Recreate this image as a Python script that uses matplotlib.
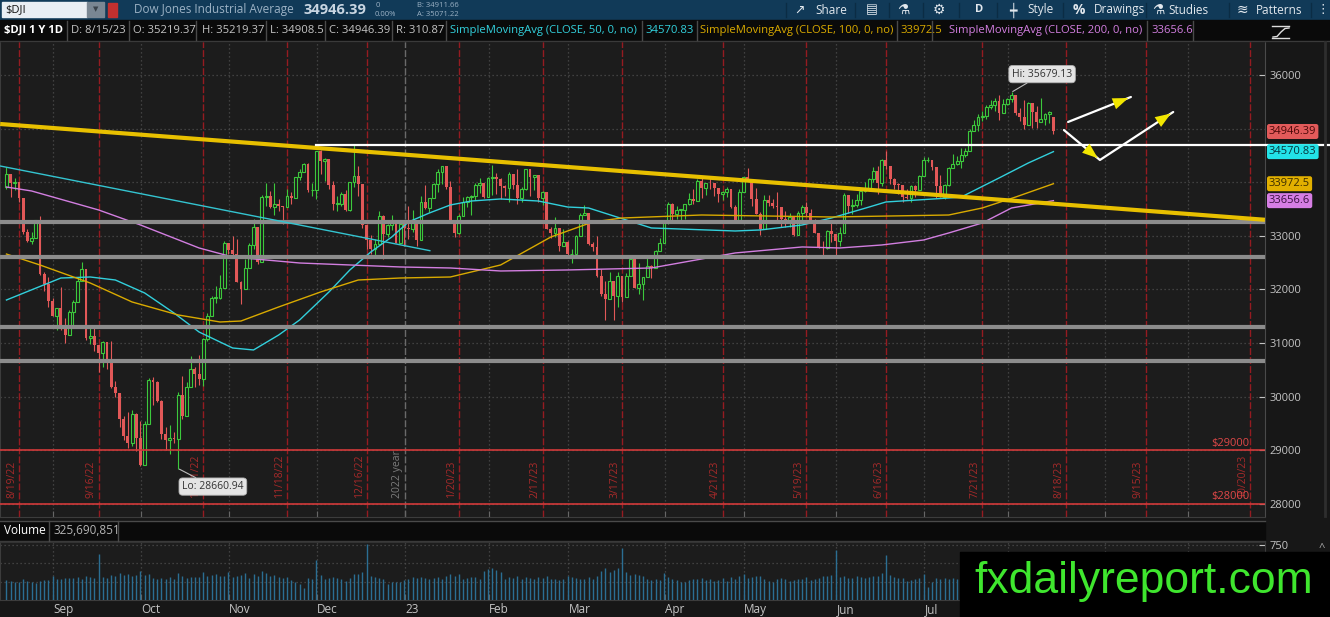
import numpy as np
import pandas as pd
import matplotlib
matplotlib.use("Agg")
import matplotlib.pyplot as plt
import matplotlib.transforms as mtrans
from matplotlib.patches import Rectangle

plt.rcParams['font.family'] = ['Open Sans', 'DejaVu Sans']

# ---------------- data ($DJI daily, 8/16/22 - 8/15/23) ----------------
prev_close = 33912.0
last_open = 35219.37

close = [
    34152, 33980, 33999, 33706, 33063, 32909, 32969, 33291, 32283, 32098, 31790, 31510,
    31656, 31318, 31145, 31581, 31775, 32151, 32381, 31104, 31135, 30961, 30822, 31019, 30706, 30184, 30076, 29590, 29260, 29134, 29683, 29225, 28725,
    29490, 30316, 30273, 29926, 29297, 29202, 29239, 29210, 30038, 29634, 30185, 30523, 30423, 30333, 31082, 31499, 31837, 31839, 32033, 32861, 32732,
    32653, 32147, 32001, 32403, 32827, 33160, 32513, 33716, 33748, 33537, 33593, 33554, 33546, 33746, 33700, 34098, 34194, 34347, 33850, 33853, 34590,
    34395, 34430, 33947, 33597, 33598, 33781, 33476, 34005, 34108, 33966, 33203, 32920, 32758, 32850, 33376, 33027, 33204, 33241, 32876, 33221, 33147,
    33136, 33270, 32930, 33631, 33518, 33704, 33974, 34190, 34303, 33911, 33297, 33045, 33375, 33630, 33734, 33744, 33949, 33978, 33717, 34086,
    34093, 34053, 33926, 33891, 34156, 33949, 33699, 33869, 34246, 34089, 34128, 33697, 33827, 33130, 33045, 33154, 32817, 32889, 32657,
    32662, 33004, 33391, 33432, 32856, 32798, 32254, 31910, 31820, 32155, 31875, 32247, 31862, 32245, 32561, 32031, 32106, 32238, 32433, 32394, 32718, 32860, 33274,
    33601, 33403, 33483, 33485, 33587, 33685, 33647, 34030, 33887, 33988, 33977, 33897, 33787, 33809, 33876, 33531, 33302, 33826, 34098,
    34052, 33684, 33415, 33128, 33674, 33619, 33562, 33531, 33310, 33301, 33349, 33012, 33420, 33536, 33427, 33287, 33056, 32800, 32765, 33093, 33042, 32908,
    33061, 33762, 33563, 33573, 33665, 33833, 33876, 34066, 34212, 33979, 34408, 34299, 34053, 33951, 33946, 33727, 33714, 33927, 33852, 34122, 34408,
    34418, 34288, 33922, 33734, 33944, 34261, 34347, 34395, 34509, 34585, 34952, 35061, 35225, 35228, 35411, 35438, 35520, 35282, 35459, 35560,
    35631, 35283, 35216, 35066, 35473, 35314, 35124, 35177, 35281, 35308, 34946.39,
]

high = [
    34281, 34080, 34070, 33910, 33600, 33120, 33080, 33300, 33365, 32330, 32240, 31850,
    31660, 32040, 31460, 31620, 31800, 32230, 32510, 32050, 31290, 31300, 30830, 31040, 30860, 31040, 30300, 30000, 29640, 29710, 29760, 29690, 29540,
    29540, 30340, 30360, 30300, 29930, 29430, 29480, 29350, 30090, 30380, 30280, 30760, 30560, 30780, 31100, 31560, 31880, 32060, 32270, 32900, 32870,
    33000, 32950, 32150, 32570, 32870, 33310, 33150, 33760, 33990, 33830, 33990, 33680, 33560, 33870, 33810, 34100, 34250, 34360, 34360, 33990, 34590,
    34595, 34450, 34370, 34020, 33740, 33810, 33860, 34010, 34710, 34300, 33840, 33170, 33010, 32950, 33460, 33380, 33230, 33390, 33300, 33290, 33150,
    33560, 33480, 33230, 33740, 33950, 33710, 33980, 34250, 34310, 34300, 34020, 33290, 33400, 33730, 33750, 33760, 33980, 34080, 33950, 34090,
    34330, 34170, 34080, 33950, 34190, 34150, 34250, 33910, 34250, 34240, 34130, 33990, 33830, 33730, 33160, 33350, 33000, 33120, 32900,
    32760, 33010, 33420, 33570, 33430, 32880, 32990, 32380, 32150, 32320, 31880, 32320, 32200, 32310, 32620, 32620, 32490, 32240, 32650, 32460, 32740, 32960, 33280,
    33640, 33620, 33560, 33510, 33590, 33800, 33880, 34060, 34080, 33990, 34100, 33960, 33880, 33830, 33920, 33840, 33580, 33880, 34100,
    34260, 34040, 33900, 33440, 33760, 33760, 33690, 33820, 33500, 33460, 33420, 33320, 33460, 33580, 33640, 33500, 33310, 33010, 32900, 33100, 33280, 33040,
    33160, 33800, 33740, 33680, 33790, 33850, 34010, 34070, 34290, 34300, 34440, 34590, 34220, 34070, 33990, 33900, 33870, 33950, 33940, 34130, 34470,
    34470, 34400, 34220, 34140, 33960, 34280, 34530, 34490, 34630, 34640, 35000, 35160, 35280, 35320, 35440, 35540, 35580, 35630, 35550, 35580,
    35679.13, 35580, 35390, 35540, 35500, 35320, 35420, 35580, 35300, 35320, 35219.37,
]

low = [
    33876, 33730, 33860, 33640, 33030, 32880, 32850, 32970, 32270, 31970, 31670, 31500,
    31250, 31250, 31010, 31150, 31320, 31790, 32150, 31060, 30990, 30850, 30470, 30560, 30520, 30170, 29990, 29440, 29190, 29040, 29090, 28980, 28710,
    28720, 29490, 29850, 29900, 29210, 29000, 28940, 29140, 28660.94, 29590, 29640, 30180, 30180, 30210, 30200, 31040, 31500, 31750, 31830, 32030, 32660,
    32580, 32140, 31730, 32000, 32400, 32760, 32480, 32510, 33560, 33520, 33380, 33470, 33230, 33540, 33600, 33700, 34050, 34190, 33820, 33750, 33680,
    34160, 34020, 33880, 33490, 33460, 33560, 33460, 33470, 33910, 33740, 33140, 32760, 32660, 32580, 32850, 32570, 32980, 33100, 32860, 32880, 32810,
    32950, 33070, 32810, 32930, 33500, 33440, 33710, 33820, 33970, 33870, 33270, 32980, 33030, 33370, 33530, 33380, 33660, 33800, 33700, 33720,
    33760, 33780, 33680, 33740, 33630, 33880, 33600, 33640, 33860, 33740, 33860, 33630, 33570, 33120, 32960, 32980, 32710, 32850, 32650,
    32500, 32610, 33000, 33400, 32830, 32720, 32230, 31880, 31430, 31850, 31430, 31670, 31770, 31860, 32250, 32020, 31920, 31810, 32240, 32210, 32470, 32710, 32880,
    33230, 33290, 33310, 33250, 33310, 33570, 33600, 33650, 33710, 33770, 33870, 33750, 33630, 33660, 33730, 33520, 33250, 33320, 33810,
    34020, 33560, 33400, 33010, 33190, 33550, 33520, 33300, 33160, 33160, 33160, 33000, 33030, 33250, 33370, 33260, 33050, 32770, 32580, 32760, 32890, 32590,
    32820, 33070, 33430, 33400, 33530, 33580, 33810, 33840, 34010, 33780, 33930, 34250, 33970, 33880, 33780, 33630, 33680, 33640, 33730, 33860, 34150,
    34370, 34230, 33700, 33730, 33690, 33930, 34260, 34320, 34270, 34480, 34580, 34950, 34960, 35150, 35180, 35360, 35330, 35170, 35310, 35440,
    35490, 35260, 35140, 35000, 35090, 35010, 35020, 35130, 35070, 35100, 34908.5,
]

# volume, millions of shares
volume = [
    270, 265, 240, 250, 290, 255, 245, 230, 260, 270, 275, 330,
    290, 280, 305, 300, 295, 310, 290, 330, 315, 300, 620, 310, 300, 345, 330, 370, 335, 360, 330, 340, 400,
    340, 350, 300, 290, 300, 290, 320, 280, 370, 330, 300, 320, 310, 320, 380, 330, 340, 360, 330, 330, 380,
    320, 330, 340, 370, 300, 350, 330, 400, 370, 330, 340, 310, 300, 320, 270, 250, 220, 160, 300, 290, 550,
    340, 280, 300, 310, 300, 280, 260, 300, 360, 350, 380, 760, 330, 310, 300, 280, 220, 250, 240, 250, 270,
    290, 310, 300, 320, 300, 280, 300, 320, 290, 330, 350, 330, 360, 290, 300, 310, 320, 290, 400, 420,
    430, 410, 380, 290, 310, 300, 330, 280, 310, 300, 290, 320, 300, 330, 290, 280, 270, 280, 330,
    310, 300, 290, 290, 320, 280, 330, 400, 440, 380, 410, 430, 710, 380, 340, 350, 340, 330, 280, 270, 290, 270, 370,
    320, 290, 270, 250, 240, 270, 290, 280, 300, 270, 280, 260, 270, 300, 260, 320, 290, 330, 350,
    300, 310, 330, 330, 290, 260, 250, 280, 300, 290, 260, 270, 290, 280, 320, 270, 290, 300, 330, 330, 340, 680,
    310, 330, 300, 300, 330, 310, 300, 320, 330, 330, 370, 615, 340, 320, 300, 300, 260, 270, 280, 300, 360,
    180, 250, 300, 280, 300, 290, 300, 290, 300, 300, 350, 320, 310, 360, 300, 300, 310, 330, 320, 320,
    330, 310, 300, 290, 260, 290, 300, 310, 260, 260, 325.690851,
]

# moving averages (trading-day index, value)
sma50_x = [0, 13, 20, 26, 33, 40, 46, 54, 59, 65, 70, 77, 82, 87, 92, 96, 101, 106, 111, 118,
           127, 134, 139, 154, 174, 180, 190, 197, 206, 210, 225, 228, 237, 244, 250]
sma50_y = [31804, 32214, 32233, 32177, 31935, 31562, 31207, 30909, 30872, 31151, 31431, 31953, 32364,
           32699, 32979, 33259, 33427, 33576, 33650, 33688, 33650, 33538, 33520, 33147, 33091, 33110,
           33203, 33333, 33538, 33632, 33706, 33725, 34079, 34359, 34570.83]
sma100_x = [0, 8, 20, 30, 41, 51, 56, 65, 75, 84, 94, 106, 118, 130, 140, 147, 166, 197, 225, 233, 241, 250]
sma100_y = [32661, 32457, 32121, 31767, 31525, 31394, 31412, 31674, 31953, 32177, 32214, 32233, 32457,
            32979, 33259, 33333, 33389, 33352, 33389, 33520, 33725, 33972.5]
sma200_x = [0, 6, 22, 32, 46, 54, 70, 94, 106, 118, 134, 154, 174, 190, 199, 209, 219, 225, 233, 240, 250]
sma200_y = [33911, 33837, 33483, 33203, 32774, 32606, 32494, 32420, 32401, 32345, 32364, 32401, 32681,
            32793, 32774, 32830, 32923, 33054, 33240, 33520, 33656.6]

# drawings
gray_levels = [33250, 32600, 31300, 30670]
red_levels = [29000, 28000]
white_level = 34695
white_start = "2022-11-30"
yellow_tl_x, yellow_tl_y = [-1.5, 300.5], [35086, 33300]
cyan_tl_x, cyan_tl_y = [-1.5, 101.1], [34303, 32724]
arrow1_x, arrow1_y = [253.5, 268.5], [35124, 35590]
arrow2_x, arrow2_y = [252.5, 261.1, 278.6], [34974, 34415, 35310]

holidays = ["2022-09-05", "2022-11-24", "2022-12-26", "2023-01-02", "2023-01-16", "2023-02-20",
            "2023-04-07", "2023-05-29", "2023-06-19", "2023-07-04", "2023-09-04"]
exp_dates = ["2022-08-19", "2022-09-16", "2022-10-21", "2022-11-18", "2022-12-16", "2023-01-20",
             "2023-02-17", "2023-03-17", "2023-04-21", "2023-05-19", "2023-06-16", "2023-07-21",
             "2023-08-18", "2023-09-15", "2023-10-20"]

# ---------------- setup ----------------
days = pd.bdate_range("2022-08-16", "2023-11-03")
days = days[~days.isin(pd.to_datetime(holidays))]
pos = {d: i for i, d in enumerate(days)}

c = np.array(close, float)
o = np.r_[prev_close, c[:-1]]
o[-1] = last_open
h = np.maximum(np.array(high, float), np.maximum(o, c))
l = np.minimum(np.array(low, float), np.minimum(o, c))
x = np.arange(len(c))
up = c >= o

BG = '#1c1c1c'
GREEN = '#3cc83c'
RED = '#e25858'
W, H = 1330, 617
XL = (-1.54, 300.52)

def fax(x0, y0, x1, y1):
    return [x0 / W, 1 - y1 / H, (x1 - x0) / W, (y1 - y0) / H]

fig = plt.figure(figsize=(13.3, 6.17), dpi=100, facecolor='#171717')
ax = fig.add_axes(fax(0, 41, 1265, 517), facecolor=BG)
axv = fig.add_axes(fax(0, 542, 1265, 600), facecolor=BG)

for a in (ax, axv):
    a.set_xlim(*XL)
    for s in a.spines.values():
        s.set_color('#3c3c3c')
ax.set_ylim(27757, 36634)
axv.set_ylim(0, 790)

# month boundaries
month_pos, month_lab = [], []
for i in range(1, len(days)):
    if days[i].month != days[i - 1].month and i <= 300:
        month_pos.append(i - 0.8)
        month_lab.append(days[i].strftime('%y') if days[i].month == 1 else days[i].strftime('%b'))

for p in range(28000, 36001, 1000):
    ax.axhline(p, color='#4c4c4c', lw=0.9, ls=(0, (1, 2.2)), zorder=1)
for mp, lab in zip(month_pos, month_lab):
    if lab == '23':
        ax.axvline(mp, color='#6a6a6a', lw=1, ls=(0, (5, 1.5)), zorder=1)
        ax.text(mp - 0.5, 28112, "2022 year", rotation=90, ha='right', va='bottom',
                color='#7c7c7c', fontsize=7.5, zorder=2)
    else:
        ax.axvline(mp, color='#4c4c4c', lw=0.9, ls=(0, (1, 2.2)), zorder=1)
    axv.axvline(mp, color='#4c4c4c', lw=0.9, ls=(0, (1, 2.2)), zorder=1)

for d in exp_dates:
    t = pd.Timestamp(d)
    i = pos[t]
    ax.axvline(i, color='#951b21', lw=1, ls=(0, (5, 1.5)), zorder=1)
    ax.text(i - 0.45, 28112, f"{t.month}/{t.day}/{t:%y}", rotation=90, ha='right', va='bottom',
            color='#a82a2a', fontsize=7.5, zorder=2)

# candles
ax.vlines(x[up], l[up], h[up], color=GREEN, lw=0.8, zorder=3)
ax.vlines(x[~up], l[~up], h[~up], color=RED, lw=0.8, zorder=3)
body_lo = np.minimum(o, c)
body_h = np.maximum(np.abs(c - o), 14)
ax.bar(x[up], body_h[up], bottom=body_lo[up], width=0.68, facecolor=BG, edgecolor=GREEN,
       linewidth=0.8, zorder=3)
ax.bar(x[~up], body_h[~up], bottom=body_lo[~up], width=0.68, color=RED, linewidth=0, zorder=3)

# studies
ax.plot(sma50_x, sma50_y, color='#32d0dc', lw=1.0, zorder=4)
ax.plot(sma100_x, sma100_y, color='#d9aa00', lw=1.0, zorder=4)
ax.plot(sma200_x, sma200_y, color='#d27ee0', lw=1.0, zorder=4)

# drawings
for p in gray_levels:
    ax.axhline(p, color='#8c8c8c', lw=3, zorder=5)
for p in red_levels:
    ax.axhline(p, color='#d23a3a', lw=1.2, zorder=5)
    ax.text(296.9, p + 30, f"${p}", ha='right', va='bottom', color='#e04848', fontsize=8, zorder=6)
ax.plot(yellow_tl_x, yellow_tl_y, color='#e8c000', lw=3, zorder=6, solid_capstyle='butt')
ax.plot(cyan_tl_x, cyan_tl_y, color='#34c4d0', lw=1.0, zorder=6)
ax.plot([pos[pd.Timestamp(white_start)], 316], [white_level] * 2, color='white', lw=1.6,
        zorder=6, clip_on=False)

for ax_, ay_ in ((arrow1_x, arrow1_y), (arrow2_x, arrow2_y)):
    ax.plot(ax_, ay_, color='white', lw=1.6, zorder=7, solid_capstyle='round')
for (x0, y0, x1, y1) in ((arrow1_x[0], arrow1_y[0], arrow1_x[1], arrow1_y[1]),
                         (arrow2_x[0], arrow2_y[0], arrow2_x[1], arrow2_y[1]),
                         (arrow2_x[1], arrow2_y[1], arrow2_x[2], arrow2_y[2])):
    ax.annotate("", xy=(x1, y1), xytext=(x0 + 0.6 * (x1 - x0), y0 + 0.6 * (y1 - y0)),
                arrowprops=dict(arrowstyle='-|>,head_length=0.8,head_width=0.3', color='#f2e600',
                                lw=0, mutation_scale=14), zorder=8)

# Hi / Lo bubbles
ih, il = int(np.argmax(h)), int(np.argmin(l))
bub = dict(boxstyle='round,pad=0.3,rounding_size=0.35', fc='#e4e4e4', ec='#b0b0b0', lw=0.6)
ax.annotate(f"Hi: {h[ih]:.2f}", xy=(ih, h[ih]), xytext=(22, 13), textcoords='offset points',
            ha='center', va='center', fontsize=7.5, color='#333333', bbox=bub, zorder=9,
            arrowprops=dict(arrowstyle='-', color='#bdbdbd', lw=0.8, shrinkA=0, shrinkB=1))
ax.annotate(f"Lo: {l[il]:.2f}", xy=(il, l[il]), xytext=(25, -13), textcoords='offset points',
            ha='center', va='center', fontsize=7.5, color='#333333', bbox=bub, zorder=9,
            arrowprops=dict(arrowstyle='-', color='#bdbdbd', lw=0.8, shrinkA=0, shrinkB=1))

# right price axis
ax.yaxis.tick_right()
ax.set_yticks([28000, 29000, 30000, 31000, 32000, 33000, 36000])
ax.tick_params(axis='y', direction='in', length=4, colors='#c4c4c4', labelsize=8, pad=3)
ax.set_xticks(month_pos)
ax.set_xticklabels([])
ax.tick_params(axis='x', direction='in', length=4, color='#666666')
ax.spines['right'].set_color('#4a4a4a')

tr = mtrans.blended_transform_factory(ax.transAxes, ax.transData)
for val, txt, fc, tc in ((c[-1], f"{c[-1]:.2f}", '#e25a5a', '#4a0808'),
                         (sma50_y[-1], f"{sma50_y[-1]:.2f}", '#22e3e8', '#06353c'),
                         (sma100_y[-1], f"{sma100_y[-1]:.1f}", '#e2b000', '#3a2c00'),
                         (sma200_y[-1], f"{sma200_y[-1]:.1f}", '#d67ee4', '#3a1040')):
    ax.text(1.0 + 4 / 1265, val, txt, transform=tr,
            ha='left', va='center', fontsize=8, color=tc, clip_on=False, zorder=9,
            bbox=dict(boxstyle='round,pad=0.18,rounding_size=0.2', fc=fc, ec='none'))

# volume
axv.vlines(x, 0, volume, color='#2b6e93', lw=1.0, zorder=3)
for p in (250, 500, 750):
    axv.axhline(p, color='#4c4c4c', lw=0.9, ls=(0, (1, 2.2)), zorder=1)
axv.yaxis.tick_right()
axv.set_yticks([750])
axv.tick_params(axis='y', direction='in', length=4, colors='#c4c4c4', labelsize=8, pad=3)
axv.set_xticks(month_pos)
axv.set_xticklabels(month_lab)
axv.tick_params(axis='x', direction='in', length=4, color='#666666', labelcolor='#c4c4c4',
                labelsize=8.5, pad=2)
for t in axv.get_xticklabels():
    t.set_horizontalalignment('left')

# ---------------- platform chrome (pixel overlay) ----------------
ov = fig.add_axes([0, 0, 1, 1], zorder=10)
ov.set_xlim(0, W)
ov.set_ylim(H, 0)
ov.axis('off')
ov.patch.set_alpha(0)

# toolbar
ov.add_patch(Rectangle((0, 0), W, 20, color='#113a58'))
ov.add_patch(Rectangle((2, 2), 85, 15, color='#e9eef3'))
ov.add_patch(Rectangle((87, 2), 17, 15, color='#7a8793'))
ov.text(95.5, 9.5, "▼", ha='center', va='center', fontsize=5, color='#3a434b')
ov.add_patch(Rectangle((108, 3), 9, 14, color='#c2302f'))
ov.text(5, 10, "$DJI", va='center', fontsize=8, color='#111111')
ov.text(134, 10, "Dow Jones Industrial Average", va='center', fontsize=8.5, color='#9cb2c5')
ov.text(304, 10, f"{c[-1]:.2f}", va='center', fontsize=10.5, color='#c8d5e1', weight='bold')
ov.text(376, 5.5, "0", va='center', fontsize=5.5, color='#9cb2c5')
ov.text(375, 14, "0.00%", va='center', fontsize=5.5, color='#9cb2c5')
ov.text(417, 5.5, "B: 34911.66", va='center', fontsize=5.5, color='#9cb2c5')
ov.text(417, 14, "A: 35071.22", va='center', fontsize=5.5, color='#9cb2c5')
tool_items = [(794, "↗", 9), (815, "Share", 8.5), (866, "▤", 9), (897, "⚗", 10), (933, "⚙", 10),
              (975, "D", 8), (1009, "┿", 9), (1027, "Style", 8.5), (1073, "%", 10),
              (1094, "Drawings", 8.5), (1152, "⚗", 10), (1168, "Studies", 8.5), (1237, "≋", 10),
              (1256, "Patterns", 8.5), (1316, "⋮", 9)]
for tx, s, fs in tool_items:
    ov.text(tx, 10, s, va='center', fontsize=fs, color='#e2e8ee',
            weight='bold' if s in ("%", "D") else 'normal')
for sx in (786, 855, 889, 923, 959, 997, 1063, 1146, 1229, 1311):
    ov.plot([sx, sx], [3, 17], color='#0b2c44', lw=1)

# legend / header row
ov.add_patch(Rectangle((0, 20), W, 21, color='#0a0a0a'))
ov.plot([0, W], [40.5, 40.5], color='#3a3a3a', lw=1)
hdr = [(4, "$DJI 1 Y 1D", 'white', 'bold'), (71, "D: 8/15/23", '#c4c4c4', 'normal'),
       (133, f"O: {last_open:.2f}", '#c4c4c4', 'normal'), (202, f"H: {h[-1]:.2f}", '#c4c4c4', 'normal'),
       (270, f"L: {l[-1]:.1f}", '#c4c4c4', 'normal'), (329, f"C: {c[-1]:.2f}", '#c4c4c4', 'normal'),
       (396, f"R: {h[-1] - l[-1]:.2f}", '#c4c4c4', 'normal'),
       (450, "SimpleMovingAvg (CLOSE, 50, 0, no)", '#32d0dc', 'normal'),
       (645, f"{sma50_y[-1]:.2f}", '#32d0dc', 'normal'),
       (700, "SimpleMovingAvg (CLOSE, 100, 0, no)", '#d9aa00', 'normal'),
       (900, f"{sma100_y[-1]:.1f}", '#d9aa00', 'normal'),
       (949, "SimpleMovingAvg (CLOSE, 200, 0, no)", '#d27ee0', 'normal'),
       (1151, f"{sma200_y[-1]:.1f}", '#d27ee0', 'normal')]
for tx, s, col, wt in hdr:
    ov.text(tx, 30.5, s, va='center', fontsize=8.1, color=col, weight=wt)
for sx in (67, 129, 196, 266, 325, 392, 446, 642, 697, 897, 932, 1147, 1193):
    ov.plot([sx, sx], [21, 40], color='#4a4a4a', lw=1)
ov.plot([1272, 1289], [26, 26], color='#dddddd', lw=1)
ov.plot([1273, 1277, 1281, 1285, 1289], [37, 36.5, 32, 28.5, 28], color='#dddddd', lw=1)
ov.plot([1272, 1289], [38, 38], color='#dddddd', lw=1)

# scrollbar strip of the price axis
ov.plot([1325, 1325], [42, 516], color='#2e2e2e', lw=2)

# volume header
ov.add_patch(Rectangle((0, 521), 1265, 20, color='#0a0a0a'))
ov.plot([0, 1265], [521, 521], color='#4a4a4a', lw=1)
ov.plot([0, 1265], [541, 541], color='#3a3a3a', lw=1)
for sx in (49, 118):
    ov.plot([sx, sx], [521, 541], color='#4a4a4a', lw=1)
ov.text(4, 531, "Volume", va='center', fontsize=8.5, color='white')
ov.text(53, 531, f"{int(round(volume[-1] * 1e6)):,}", va='center', fontsize=8.5, color='#b4b4b4')
ov.text(1322, 548, "^", ha='center', va='center', fontsize=8, color='#aaaaaa')

# watermark
ov.add_patch(Rectangle((960, 552), 370, 65, color='black'))
ov.text(1144, 582, "fxdailyreport.com", ha='center', va='center', fontsize=32,
        color='#3fe62e', family='Liberation Sans')

fig.savefig("out.png", dpi=100, facecolor=fig.get_facecolor())
